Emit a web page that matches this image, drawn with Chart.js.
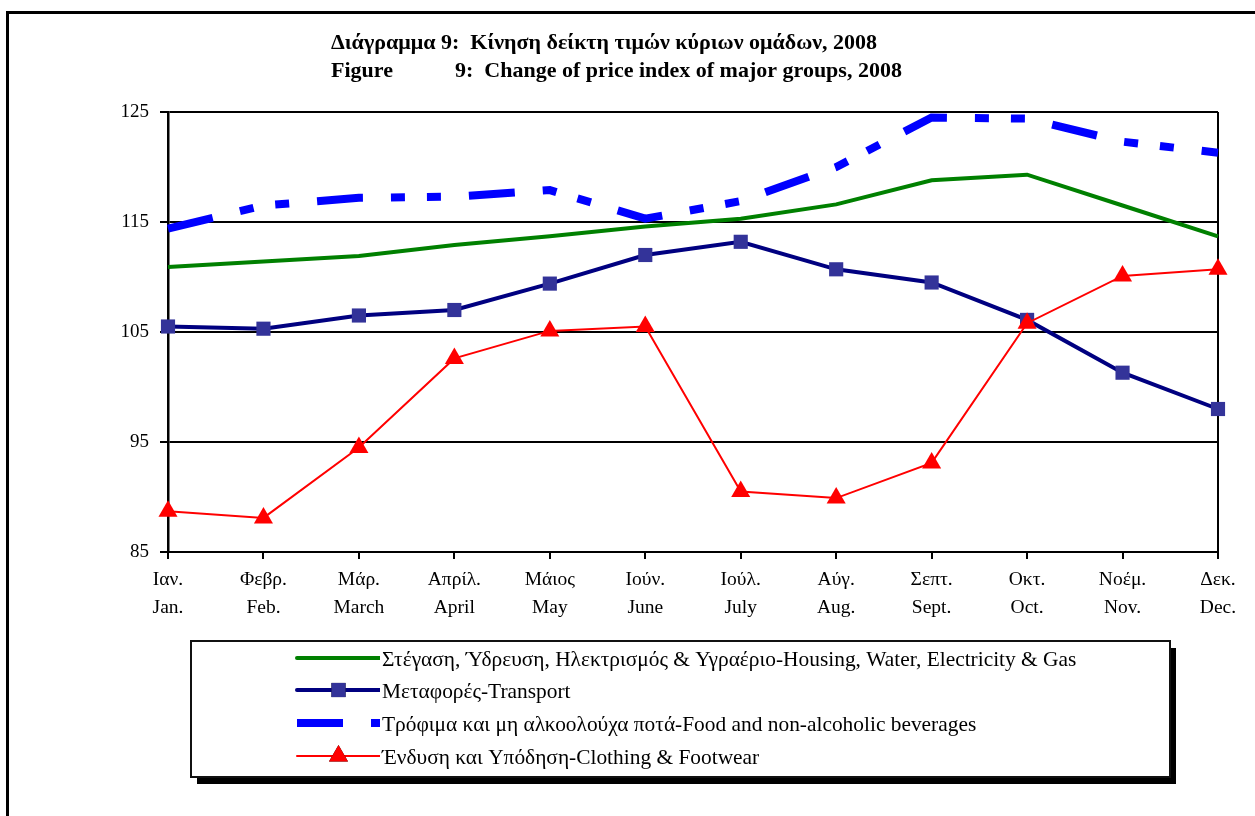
<!DOCTYPE html>
<html>
<head>
<meta charset="utf-8">
<script src="https://cdn.jsdelivr.net/npm/chart.js@4"></script>
<style>
  html, body { margin: 0; padding: 0; background: #fff; }
  #wrap { position: relative; width: 1255px; height: 816px; }
</style>
</head>
<body>
<div id="wrap"><canvas id="chart" width="1255" height="816"></canvas></div>
<script>
// Chart data
const monthsGr = ['Ιαν.', 'Φεβρ.', 'Μάρ.', 'Απρίλ.', 'Μάιος', 'Ιούν.', 'Ιούλ.', 'Αύγ.', 'Σεπτ.', 'Οκτ.', 'Νοέμ.', 'Δεκ.'];
const monthsEn = ['Jan.', 'Feb.', 'March', 'April', 'May', 'June', 'July', 'Aug.', 'Sept.', 'Oct.', 'Nov.', 'Dec.'];
const housing   = [110.9, 111.4, 111.9, 112.9, 113.7, 114.6, 115.3, 116.6, 118.8, 119.3, 116.5, 113.7];
const transport = [105.5, 105.3, 106.5, 107.0, 109.4, 112.0, 113.2, 110.7, 109.5, 106.1, 101.3, 98.0];
const food      = [114.4, 116.5, 117.2, 117.3, 117.9, 115.3, 116.9, 120.0, 124.5, 124.4, 122.3, 121.3];
const clothing  = [88.7, 88.1, 94.5, 102.6, 105.1, 105.5, 90.5, 89.9, 93.1, 105.8, 110.1, 110.7];
const yTicks = [85, 95, 105, 115, 125];
const titleLine1 = 'Διάγραμμα 9:  Κίνηση δείκτη τιμών κύριων ομάδων, 2008';
const titleLine2a = 'Figure';
const titleLine2b = '9:  Change of price index of major groups, 2008';

const serif = '"Liberation Serif", "Times New Roman", serif';
const labels = monthsGr.map((g, i) => [g, monthsEn[i]]);

// outer frame + title
const framePlugin = {
    id: 'frame',
    beforeDraw(chart) {
        const ctx = chart.ctx;
        ctx.save();
        ctx.fillStyle = '#000';
        ctx.fillRect(6, 11, 3, 816);
        ctx.fillRect(6, 11, 1260, 3);
        ctx.font = 'bold 22px ' + serif;
        ctx.textBaseline = 'alphabetic';
        ctx.fillText(titleLine1, 331, 49);
        ctx.fillText(titleLine2a, 331, 77);
        ctx.fillText(titleLine2b, 455, 77);
        ctx.restore();
    }
};

// boxed legend with drop shadow, built from the dataset styles
const boxLegend = {
    id: 'boxLegend',
    afterDraw(chart) {
        const ctx = chart.ctx;
        const bx = 191, by = 641, bw = 979, bh = 136;
        ctx.save();
        ctx.fillStyle = '#000';
        ctx.fillRect(bx + 6, by + 7, bw, bh);
        ctx.fillStyle = '#fff';
        ctx.fillRect(bx, by, bw, bh);
        ctx.strokeStyle = '#111';
        ctx.lineWidth = 2;
        ctx.strokeRect(bx, by, bw, bh);

        const rows = [658, 690, 723, 756];
        chart.data.datasets.forEach((ds, i) => {
            const y = rows[i];
            const x0 = 297, x1 = 380;
            ctx.save();
            ctx.beginPath();
            ctx.rect(x0 - 5, y - 10, x1 - x0 + 5, 20);
            ctx.clip();
            ctx.strokeStyle = ds.borderColor;
            ctx.lineWidth = ds.borderWidth;
            ctx.setLineDash(ds.borderDash || []);
            ctx.lineCap = ds.borderDash ? 'butt' : 'round';
            ctx.beginPath();
            ctx.moveTo(x0, y);
            ctx.lineTo(x1, y);
            ctx.stroke();
            ctx.restore();
            if (ds.pointRadius > 0) {
                Chart.helpers.drawPoint(ctx, {
                    pointStyle: ds.pointStyle,
                    radius: ds.pointRadius,
                    rotation: 0,
                    borderWidth: 0
                }, (x0 + x1) / 2, y);
                ctx.fillStyle = ds.pointBackgroundColor;
                ctx.fill();
            }
            ctx.fillStyle = '#000';
            ctx.font = '21.4px ' + serif;
            ctx.textBaseline = 'middle';
            ctx.fillText(ds.label, x1 + 2, y + 2);
        });
        ctx.restore();
    }
};

new Chart(document.getElementById('chart'), {
    type: 'line',
    data: {
        labels: labels,
        datasets: [
            {
                label: 'Στέγαση, Ύδρευση, Ηλεκτρισμός & Υγραέριο-Housing, Water, Electricity & Gas',
                data: housing,
                borderColor: '#008000',
                borderWidth: 4,
                pointRadius: 0,
                order: 3
            },
            {
                label: 'Μεταφορές-Transport',
                data: transport,
                borderColor: '#000080',
                borderWidth: 4,
                pointStyle: 'rect',
                pointRadius: 10,
                pointBackgroundColor: '#333399',
                pointBorderWidth: 0,
                order: 2
            },
            {
                label: 'Τρόφιμα και μη αλκοολούχα ποτά-Food and non-alcoholic beverages',
                data: food,
                borderColor: '#0000ff',
                borderWidth: 8,
                borderDash: [46, 28, 14, 22, 14, 28],
                borderCapStyle: 'butt',
                pointRadius: 0,
                order: 4
            },
            {
                label: 'Ένδυση και Υπόδηση-Clothing & Footwear',
                data: clothing,
                borderColor: '#ff0000',
                borderWidth: 2,
                pointStyle: 'triangle',
                pointRadius: 11,
                pointBackgroundColor: '#ff0000',
                pointBorderWidth: 0,
                order: 1
            }
        ]
    },
    options: {
        responsive: false,
        animation: false,
        events: [],
        elements: { line: { tension: 0 }, point: { hoverRadius: 0 } },
        layout: { padding: { top: 112, right: 37, left: 0, bottom: 0 } },
        plugins: {
            legend: { display: false },
            title: { display: false },
            tooltip: { enabled: false }
        },
        scales: {
            x: {
                grid: {
                    drawOnChartArea: true,
                    color: c => c.index === labels.length - 1 ? '#000' : 'rgba(0,0,0,0)',
                    tickColor: '#000',
                    tickLength: 7,
                    lineWidth: 2
                },
                border: { display: true, color: '#000', width: 2 },
                ticks: {
                    color: '#000',
                    font: { family: serif, size: 19.5, lineHeight: 1.48 },
                    padding: 6,
                    maxRotation: 0,
                    autoSkip: false
                },
                afterFit: s => { s.height = 264; }
            },
            y: {
                min: yTicks[0],
                max: yTicks[yTicks.length - 1],
                afterBuildTicks: s => { s.ticks = yTicks.map(v => ({ value: v })); },
                grid: { color: '#000', lineWidth: 2, tickLength: 8, tickColor: '#000' },
                border: { color: '#000', width: 2.5 },
                ticks: {
                    color: '#000',
                    font: { family: serif, size: 19 },
                    padding: 11
                },
                afterFit: s => { s.width = 168; }
            }
        }
    },
    plugins: [framePlugin, boxLegend]
});
</script>
</body>
</html>
